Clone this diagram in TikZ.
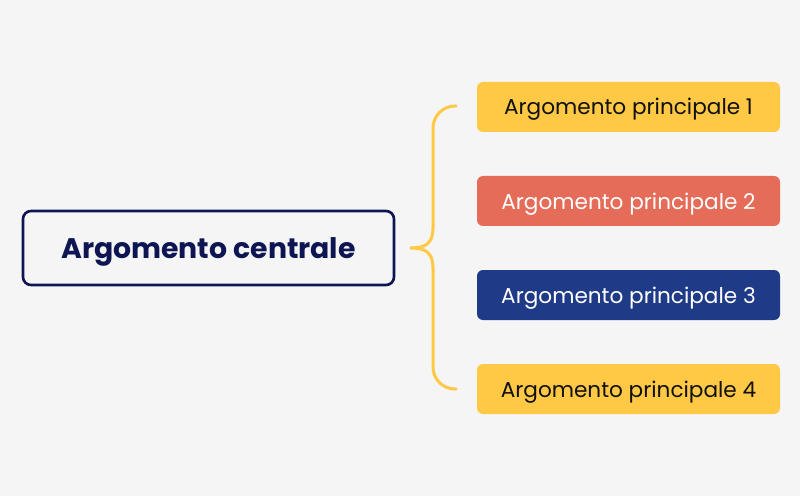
\documentclass[tikz,border=0pt]{standalone}
\usepackage{fontspec}
\setmainfont{Poppins}
\definecolor{bg}{HTML}{F5F5F5}
\definecolor{navy}{HTML}{0D1552}
\definecolor{yel}{HTML}{FFC845}
\definecolor{redc}{HTML}{E46C58}
\definecolor{bluec}{HTML}{1F3A87}
\definecolor{ink}{HTML}{111111}
\tikzset{
  topic/.style={rounded corners=6pt, minimum width=303pt, minimum height=50pt, inner sep=0pt, text height=19pt, text depth=3pt, font=\fontsize{21.6}{24}\selectfont},
  central/.style={draw=navy, line width=2.6pt, fill=bg, rounded corners=8pt, minimum width=371pt, minimum height=74pt, inner sep=0pt, text height=24pt, text depth=4pt, text=navy, font=\fontsize{28.3}{32}\selectfont\bfseries},
  bracel/.style={draw=yel, line width=3pt, line cap=round}
}
\begin{document}
\begin{tikzpicture}[x=1pt,y=1pt]
\fill[bg] (0,0) rectangle (800,496);
\useasboundingbox (0,0) rectangle (800,496);
\node[central] (c) at (208.5,248) {Argomento centrale};
\node[topic, fill=yel, text=ink] (t1) at (628.5,389) {Argomento principale 1};
\node[topic, fill=redc, text=white] (t2) at (628.5,295) {Argomento principale 2};
\node[topic, fill=bluec, text=white] (t3) at (628.5,201) {Argomento principale 3};
\node[topic, fill=yel, text=ink] (t4) at (628.5,107) {Argomento principale 4};
\coordinate (btop) at (456,390);
\coordinate (bbot) at (456,107);
\coordinate (btip) at (411,248);
\draw[bracel, rounded corners=22pt] (btop) -- (433,390) -- (433,268);
\draw[bracel] (433,268.5) .. controls (433,252) and (425,248) .. (btip);
\draw[bracel] (btip) .. controls (425,248) and (433,244) .. (433,227.5);
\draw[bracel, rounded corners=22pt] (433,228) -- (433,107) -- (bbot);
\end{tikzpicture}
\end{document}
